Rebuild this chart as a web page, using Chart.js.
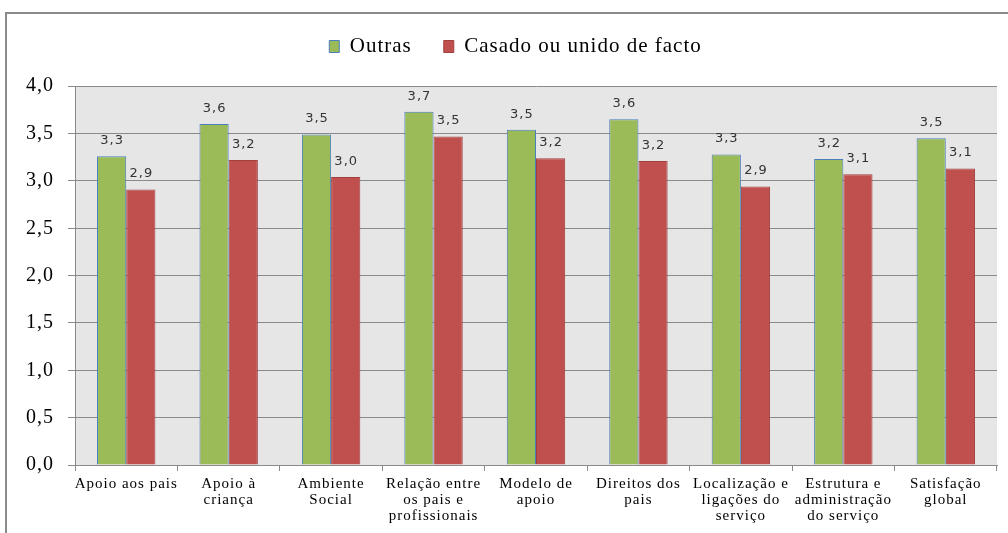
<!DOCTYPE html>
<html><head><meta charset="utf-8">
<script src="https://cdn.jsdelivr.net/npm/chart.js"></script>
<style>html,body{margin:0;padding:0;background:#fff;}#wrap{position:absolute;left:0;top:0;width:1008px;height:533px;}</style>
</head><body><div id="wrap"><canvas id="c" width="1008" height="533"></canvas></div>
<script>
const categories = [
  "Apoio aos pais",
  ["Apoio à","criança"],
  ["Ambiente","Social"],
  ["Relação entre","os pais e","profissionais"],
  ["Modelo de","apoio"],
  ["Direitos dos","pais"],
  ["Localização e","ligações do","serviço"],
  ["Estrutura e","administração","do serviço"],
  ["Satisfação","global"]
];
const outras = [3.26, 3.60, 3.49, 3.73, 3.54, 3.65, 3.28, 3.23, 3.45];
const casado = [2.91, 3.22, 3.04, 3.47, 3.24, 3.21, 2.94, 3.07, 3.13];
const yTicks = [0,0.5,1,1.5,2,2.5,3,3.5,4];

const fmt = v => v.toFixed(1).replace('.', ',');

const spacing = {
  id: 'spacing',
  beforeUpdate(chart) { chart.ctx.letterSpacing = '1px'; },
  beforeDraw(chart) { chart.ctx.letterSpacing = '1px'; },
  afterLayout(chart) {
    const lg = chart.legend;
    if (lg) { lg.left += 17; lg.right += 17; }
  }
};

const decor = {
  id: 'decor',
  beforeDraw(chart) {
    const {ctx, chartArea: a} = chart;
    ctx.save();
    ctx.fillStyle = '#e6e6e6';
    ctx.fillRect(a.left, a.top, a.right - a.left, a.bottom - a.top);
    ctx.strokeStyle = '#8a8a8a';
    ctx.lineWidth = 2;
    ctx.strokeRect(6, 13, 1012, 530);
    ctx.restore();
  },
  afterDatasetsDraw(chart) {
    const ctx = chart.ctx;
    ctx.save();
    ctx.font = '13px "DejaVu Sans"';
    ctx.fillStyle = '#333';
    ctx.textAlign = 'center';
    ctx.textBaseline = 'bottom';
    ctx.letterSpacing = '1px';
    chart.data.datasets.forEach((ds, di) => {
      chart.getDatasetMeta(di).data.forEach((bar, i) => {
        ctx.fillText(fmt(ds.data[i]), bar.x + 0.5, bar.y - 9);
      });
    });
    ctx.restore();
  }
};

new Chart(document.getElementById('c'), {
  type: 'bar',
  data: {
    labels: categories,
    datasets: [
      {label: 'Outras', data: outras, backgroundColor: '#9bbb59', borderColor: '#4a7ebb', borderWidth: 1,
       categoryPercentage: 0.57, barPercentage: 1},
      {label: 'Casado ou unido de facto', data: casado, backgroundColor: '#c0504d', borderColor: '#a2403d', borderWidth: 1,
       categoryPercentage: 0.57, barPercentage: 1}
    ]
  },
  options: {
    responsive: false,
    animation: false,
    layout: {padding: {left: 0, right: 11, top: 4, bottom: 0}},
    plugins: {
      legend: {
        position: 'top',
        labels: {
          boxWidth: 10, boxHeight: 12, padding: 32,
          color: '#000',
          font: {family: '"Liberation Serif"', size: 21}
        }
      },
      subtitle: {
        display: true, text: ' ', weight: 100, position: 'top',
        font: {size: 1}, padding: {top: 0, bottom: 18}
      },
      tooltip: {enabled: false}
    },
    scales: {
      x: {
        grid: {display: true, drawOnChartArea: false, drawTicks: true, tickLength: 6, color: '#8a8a8a', offset: true},
        border: {color: '#8a8a8a'},
        ticks: {color: '#000', font: {family: '"Liberation Serif"', size: 15, lineHeight: '16px'}, padding: 5, maxRotation: 0, autoSkip: false},
        afterFit: s => { s.height = 68; }
      },
      y: {
        min: 0, max: 4,
        afterBuildTicks: s => { s.ticks = yTicks.map(v => ({value: v})); },
        grid: {color: '#8a8a8a', tickLength: 7},
        border: {color: '#8a8a8a'},
        ticks: {color: '#000', font: {family: '"Liberation Serif"', size: 20}, padding: 14, callback: v => fmt(v)},
        afterFit: s => { s.width = 75; }
      }
    }
  },
  plugins: [spacing, decor]
});
</script></body></html>
